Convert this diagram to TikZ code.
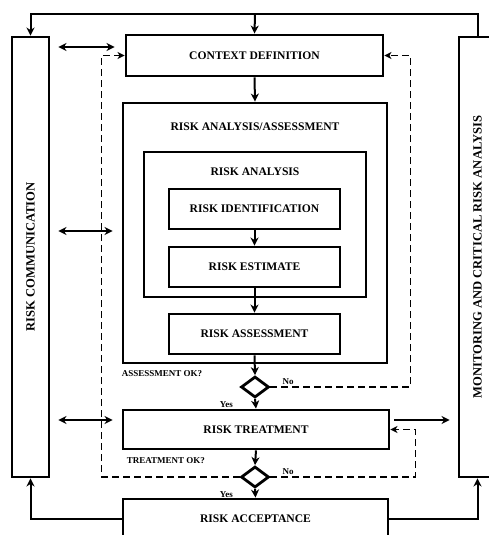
\documentclass[tikz,border=0pt]{standalone}
\usepackage{fontspec}
\setmainfont{Liberation Serif}
\usetikzlibrary{shapes.geometric,arrows.meta,calc}
\begin{document}
\begin{tikzpicture}[x=1pt,y=-1pt,
  box/.style={draw, line width=2.9pt, inner sep=0pt, align=center,
    font=\bfseries\fontsize{11.6}{13}\selectfont},
  vbox/.style={draw, line width=2.9pt, inner sep=0pt, minimum width=37pt, minimum height=440pt},
  vtext/.style={rotate=90, font=\bfseries\fontsize{12.6}{14}\selectfont},
  title/.style={font=\bfseries\fontsize{11.6}{13}\selectfont},
  lbl/.style={font=\bfseries\fontsize{9}{10}\selectfont, inner sep=0pt},
  decision/.style={diamond, draw, line width=2.8pt, inner sep=0pt, minimum width=28pt, minimum height=21pt},
  tip/.tip={Stealth[length=8pt,width=8pt,inset=2.5pt]},
  arr/.style={line width=2pt, -tip},
  dbl/.style={line width=2pt, tip-tip},
  dsh/.style={line width=1.5pt, dash pattern=on 7pt off 4pt, -{Stealth[length=7pt,width=7pt,inset=2pt]}}
]
\useasboundingbox (0,0) rectangle (489,535);
\clip (0,0) rectangle (489,535);
\fill[white] (0,0) rectangle (489,535);

% side columns
\node[vbox] (lc) at (30.5,257) {};
\node[vtext] at (lc.center) {RISK COMMUNICATION};
\node[vbox] (mon) at (477.5,257) {};
\node[vtext] at (mon.center) {MONITORING AND CRITICAL RISK ANALYSIS};

% main process boxes
\node[box, minimum width=257pt, minimum height=41pt] (ctx) at (254.5,55.5) {CONTEXT DEFINITION};
\node[box, minimum width=264pt, minimum height=260pt] (raa) at (255,233) {};
\node[title] at (255,127) {RISK ANALYSIS/ASSESSMENT};
\node[box, minimum width=222pt, minimum height=145pt] (ra) at (255,224.5) {};
\node[title] at (255,172) {RISK ANALYSIS};
\node[box, minimum width=171pt, minimum height=40pt] (rid) at (254.5,209) {RISK IDENTIFICATION};
\node[box, minimum width=171pt, minimum height=40pt] (rest) at (254.5,267) {RISK ESTIMATE};
\node[box, minimum width=171pt, minimum height=40pt] (rass) at (254.5,334) {RISK ASSESSMENT};
\node[decision] (d1) at (255,387) {};
\node[box, minimum width=266pt, minimum height=39pt] (rt) at (256,429.5) {RISK TREATMENT};
\node[decision] (d2) at (255,477) {};
\node[box, minimum width=265pt, minimum height=40pt] (rac) at (255.5,519) {RISK ACCEPTANCE};

% decision labels
\node[lbl, anchor=west] at ([yshift=-9pt]raa.south west) {ASSESSMENT OK?};
\node[lbl, anchor=west] at ([xshift=5pt,yshift=-10.5pt]rt.south west) {TREATMENT OK?};
\node[lbl, anchor=west] at ([xshift=12pt,yshift=5pt]d1.east) {No};
\node[lbl, anchor=east] at ([xshift=-22pt,yshift=-5.5pt]d1.south) {Yes};
\node[lbl, anchor=west] at ([xshift=12pt,yshift=5pt]d2.east) {No};
\node[lbl, anchor=east] at ([xshift=-22pt,yshift=-6pt]d2.south) {Yes};

% top distribution line
\coordinate (tl) at (255,14);
\draw[arr] (mon.north) |- (tl) -| (lc.north);
\draw[arr] (tl) -- (ctx.north);

% main flow
\draw[arr] (ctx.south) -- (raa.north);
\draw[arr] (rid.south) -- (rest.north);
\draw[arr] (rest.south) -- (rass.north);
\draw[arr] (rass.south) -- (d1.north);
\draw[arr] (d1.south) -- (rt.north);
\draw[arr] (rt.south) -- (d2.north);
\draw[arr] (d2.south) -- (rac.north);

% acceptance feeds back to both columns
\draw[arr] (rac.west) -| (lc.south);
\draw[arr] (rac.east) -| (mon.south);

% communication links
\coordinate (ctxin) at ([yshift=8.5pt]ctx.west);
\coordinate (raain) at ([yshift=2pt]raa.west);
\coordinate (rtin) at ([yshift=9.5pt]rt.west);
\coordinate (rtout) at ([yshift=9.5pt]rt.east);
\draw[dbl, shorten <=8pt, shorten >=10pt] (lc.east |- ctxin) -- (ctxin);
\draw[dbl, shorten <=8pt, shorten >=9pt] (lc.east |- raain) -- (raain);
\draw[dbl, shorten <=8pt, shorten >=9pt] (lc.east |- rtin) -- (rtin);
\draw[arr, shorten <=4pt, shorten >=8pt] (rtout) -- (mon.west |- rtout);

% "No" feedback loops
\draw[dsh] (d2.west) -- ++(-138,0) |- (ctx.west);
\draw[dsh] (d1.east) -- ++(140,0) |- (ctx.east);
\draw[dsh] (d2.east) -- ++(145,0) |- (rt.east);
\end{tikzpicture}
\end{document}
